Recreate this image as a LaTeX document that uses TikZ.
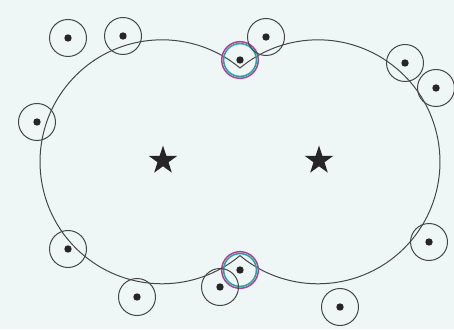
\documentclass[tikz,border=0pt]{standalone}
\usetikzlibrary{shapes.geometric}

\definecolor{bgpale}{RGB}{239,247,246}
\definecolor{inkgray}{RGB}{70,70,70}
\definecolor{ringmag}{RGB}{176,64,154}
\definecolor{ringteal}{RGB}{32,168,160}

\begin{document}
\begin{tikzpicture}[x=1pt,y=1pt,
  spot/.style={circle, draw=inkgray, line width=1pt, minimum size=37pt, inner sep=0pt},
  dotc/.style={fill=black!85},
  hub/.style={star, star points=5, star point ratio=2.6, fill=black!85, minimum size=30pt, inner sep=0pt}]
\useasboundingbox[fill=bgpale] (0,0) rectangle (454,329);
% the two joined outlines
\coordinate (ntop) at (240,261);
\coordinate (nbot) at (240,73);
\draw[inkgray, line width=1pt] (ntop) arc[start angle=50.26, end angle=309.74, radius=122]
  arc[start angle=230.26, end angle=489.74, radius=122] -- cycle;
\node[hub] (starL) at (163,168.5) {};
\node[hub] (starR) at (319,168.5) {};
% marked points on the join
\draw[ringmag, line width=1.5pt] (240,269) circle (18.3);
\draw[ringteal, line width=1.5pt] (240,269) circle (16.4);
\draw[ringmag, line width=1.5pt] (240,59) circle (18.3);
\draw[ringteal, line width=1.5pt] (240,59) circle (16.4);
\fill[dotc] (240,269) circle (3.7);
\fill[dotc] (240,59) circle (3.7);
% loose points with their rings
\node[spot] (p1) at (68,291) {};
\node[spot] (p2) at (123,293) {};
\node[spot] (p3) at (266,292) {};
\node[spot] (p4) at (405,266) {};
\node[spot] (p5) at (436,241) {};
\node[spot] (p6) at (37,207) {};
\node[spot] (p7) at (68,80) {};
\node[spot] (p8) at (137,32) {};
\node[spot] (p9) at (220,42) {};
\node[spot] (p10) at (429,87) {};
\node[spot] (p11) at (340,22) {};
\fill[dotc] (p1.center) circle (3.7);
\fill[dotc] (p2.center) circle (3.7);
\fill[dotc] (p3.center) circle (3.7);
\fill[dotc] (p4.center) circle (3.7);
\fill[dotc] (p5.center) circle (3.7);
\fill[dotc] (p6.center) circle (3.7);
\fill[dotc] (p7.center) circle (3.7);
\fill[dotc] (p8.center) circle (3.7);
\fill[dotc] (p9.center) circle (3.7);
\fill[dotc] (p10.center) circle (3.7);
\fill[dotc] (p11.center) circle (3.7);
\end{tikzpicture}
\end{document}
